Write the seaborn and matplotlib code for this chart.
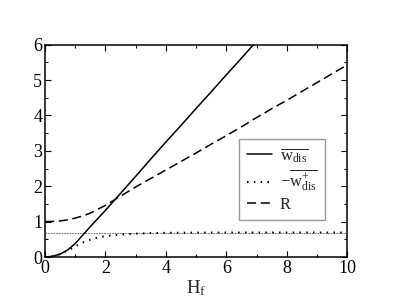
import matplotlib
matplotlib.use("Agg")
import matplotlib.pyplot as plt
import seaborn as sns

# values
h_f = [0, 0.25, 0.5, 0.75, 1, 1.25, 1.5, 1.75, 2, 2.5, 3, 3.5, 4, 4.5, 5, 5.5, 6,
       6.5, 7, 7.5, 8, 8.5, 9, 9.5, 10]
w_dis = [0, 0.02, 0.08, 0.2, 0.38, 0.62, 0.86, 1.09, 1.32, 1.8, 2.28, 2.77, 3.25,
         3.72, 4.2, 4.67, 5.15, 5.62, 6.1, 6.57, 7.05, 7.52, 8.0, 8.47, 8.95]
w_dis_plus = [0, 0.02, 0.08, 0.18, 0.3, 0.41, 0.49, 0.55, 0.59, 0.635, 0.66, 0.675,
              0.683, 0.687, 0.69, 0.691, 0.692, 0.693, 0.693, 0.693, 0.693, 0.693,
              0.693, 0.693, 0.693]
r_vals = [1.0, 1.005, 1.02, 1.05, 1.1, 1.16, 1.24, 1.35, 1.46, 1.72, 1.98, 2.22,
          2.46, 2.7, 2.94, 3.19, 3.43, 3.68, 3.94, 4.19, 4.43, 4.68, 4.93, 5.18, 5.43]
ref_level = 0.69

labels = [r'$\overline{\mathregular{w_{dis}}}$',
          r'$\mathregular{-}\overline{\mathregular{w^{+}_{dis}}}$',
          'R']

sns.set_style('ticks')
plt.rcParams['font.family'] = 'serif'
plt.rcParams['font.serif'] = ['Liberation Serif', 'DejaVu Serif']
plt.rcParams['mathtext.fontset'] = 'stix'

fig = plt.figure(figsize=(3.93, 3.04), dpi=100)
ax = fig.add_axes([0.1145, 0.1546, 0.7692, 0.6984])

ax.axhline(ref_level, color='#555555', lw=0.6, ls=(0, (2, 1.2)))
sns.lineplot(x=h_f, y=w_dis, ax=ax, color='black', lw=1.1, linestyle='-', label=labels[0])
sns.lineplot(x=h_f, y=w_dis_plus, ax=ax, color='black', lw=1.4,
             linestyle=(0, (0.8, 2.7)), label=labels[1])
sns.lineplot(x=h_f, y=r_vals, ax=ax, color='black', lw=1.1,
             linestyle=(0, (6, 3)), label=labels[2])

ax.set_xlim(0, 10)
ax.set_ylim(0, 6)
ax.set_xticks([0, 2, 4, 6, 8, 10])
ax.set_xticks([1, 3, 5, 7, 9], minor=True)
ax.set_yticks([0, 1, 2, 3, 4, 5, 6])
ax.set_yticks([0.5, 1.5, 2.5, 3.5, 4.5, 5.5], minor=True)
ax.tick_params(which='both', direction='in', top=True, right=True,
               width=0.8, labelsize=13, pad=2, colors='black')
ax.tick_params(which='major', length=4)
ax.tick_params(which='minor', length=2.2)
for s in ax.spines.values():
    s.set_visible(True)
    s.set_linewidth(1.1)
    s.set_color('black')

ax.set_xlabel(r'$\mathregular{H_f}$', fontsize=13.5, labelpad=1)
ax.set_ylabel('')

leg = ax.legend(loc='upper left', bbox_to_anchor=(0.642, 0.557), borderaxespad=0,
                fontsize=12, handlelength=1.5, handletextpad=0.5, labelspacing=0.2,
                borderpad=0.45, fancybox=False, frameon=True)
leg.get_frame().set_edgecolor('#808080')
leg.get_frame().set_linewidth(1.0)

fig.savefig('out.png', dpi=100)
